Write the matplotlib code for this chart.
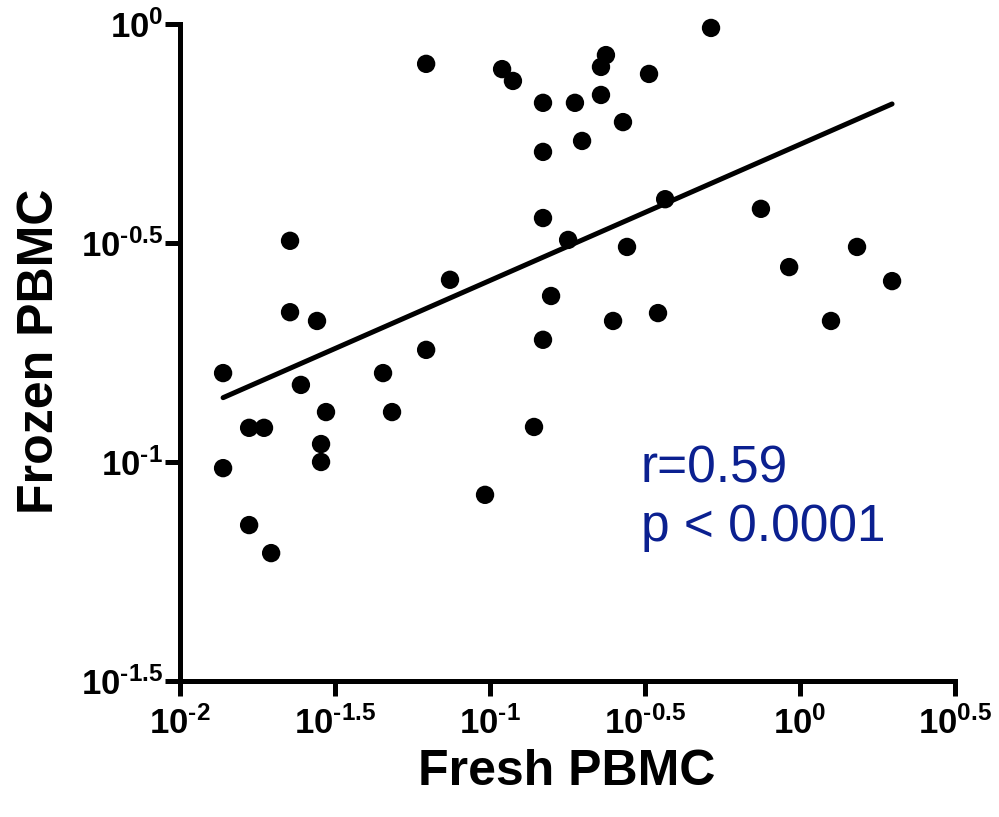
import numpy as np
import matplotlib
matplotlib.use("Agg")
import matplotlib.pyplot as plt

plt.rcParams['font.family'] = ['Liberation Sans', 'DejaVu Sans']
plt.rcParams['mathtext.fontset'] = 'custom'
plt.rcParams['mathtext.rm'] = 'Liberation Sans'
plt.rcParams['mathtext.bf'] = 'Liberation Sans:bold'
plt.rcParams['mathtext.it'] = 'Liberation Sans:italic'

# log10 values
fresh_log = [-1.861, -1.861, -1.777, -1.729, -1.777, -1.706, -1.645, -1.645, -1.610,
             -1.558, -1.545, -1.545, -1.529, -1.345, -1.316, -1.206, -1.206, -1.129,
             -1.016, -0.961, -0.926, -0.858, -0.829, -0.829, -0.829, -0.829, -0.803,
             -0.748, -0.726, -0.703, -0.642, -0.626, -0.642, -0.603, -0.571, -0.558,
             -0.487, -0.458, -0.435, -0.287, -0.126, -0.035, 0.100, 0.184, 0.297]
frozen_log = [-0.797, -1.014, -0.922, -0.922, -1.144, -1.208, -0.495, -0.658, -0.824,
              -0.678, -0.959, -1.000, -0.886, -0.797, -0.886, -0.091, -0.744, -0.584,
              -1.075, -0.103, -0.130, -0.920, -0.180, -0.292, -0.443, -0.721, -0.621,
              -0.493, -0.180, -0.267, -0.098, -0.071, -0.162, -0.678, -0.224, -0.509,
              -0.114, -0.660, -0.400, -0.009, -0.422, -0.555, -0.678, -0.509, -0.587]

x_tick_exp = [-2, -1.5, -1, -0.5, 0, 0.5]
y_tick_exp = [-1.5, -1, -0.5, 0]
x_tick_labels = ['-2', '-1.5', '-1', '-0.5', '0', '0.5']
y_tick_labels = ['-1.5', '-1', '-0.5', '0']

fresh = 10 ** np.array(fresh_log)
frozen = 10 ** np.array(frozen_log)


def fmt(t):
    return r'$\mathbf{10^{%s}}$' % t.replace('-', '\u2010')


fig = plt.figure(figsize=(9.99, 8.17), dpi=100)
ax = fig.add_axes([180/999, 1-681/817, (955-180)/999, (681-24)/817])

ax.set_xscale('log')
ax.set_yscale('log')
ax.set_xlim(10**-2, 10**0.5)
ax.set_ylim(10**-1.5, 10**0)

ax.scatter(fresh, frozen, s=175, color='black', edgecolors='none', zorder=3, clip_on=False)

# linear regression in log-log space
lx = np.array(fresh_log)
ly = np.array(frozen_log)
slope, intercept = np.polyfit(lx, ly, 1)
xs = np.array([lx.min(), lx.max()])
ax.plot(10**xs, 10**(slope*xs + intercept), color='black', lw=3.6, solid_capstyle='round', zorder=2)

ax.set_xticks([10**e for e in x_tick_exp])
ax.set_xticklabels([fmt(t) for t in x_tick_labels])
ax.set_yticks([10**e for e in y_tick_exp])
ax.set_yticklabels([fmt(t) for t in y_tick_labels])
ax.xaxis.set_minor_locator(matplotlib.ticker.NullLocator())
ax.yaxis.set_minor_locator(matplotlib.ticker.NullLocator())

for s in ['top', 'right']:
    ax.spines[s].set_visible(False)
for s in ['left', 'bottom']:
    ax.spines[s].set_linewidth(3.6)
    ax.spines[s].set_capstyle('projecting')
ax.tick_params(axis='both', which='major', width=3.6, length=11, labelsize=25, direction='out')
ax.tick_params(axis='x', pad=7)
ax.tick_params(axis='y', pad=1)

fig.text(567/999, 1-772/817, 'Fresh PBMC', fontsize=36, fontweight='bold', ha='center', va='center')
fig.text(40/999, 1-351/817, 'Frozen PBMC', fontsize=36, fontweight='bold', ha='center', va='center', rotation=90)

fig.text(641/999, 1-483/817, 'r=0.59', fontsize=37, color='#0b2090', ha='left', va='baseline')
fig.text(641/999, 1-541/817, 'p < 0.0001', fontsize=37, color='#0b2090', ha='left', va='baseline')

fig.savefig('out.png', dpi=100)
